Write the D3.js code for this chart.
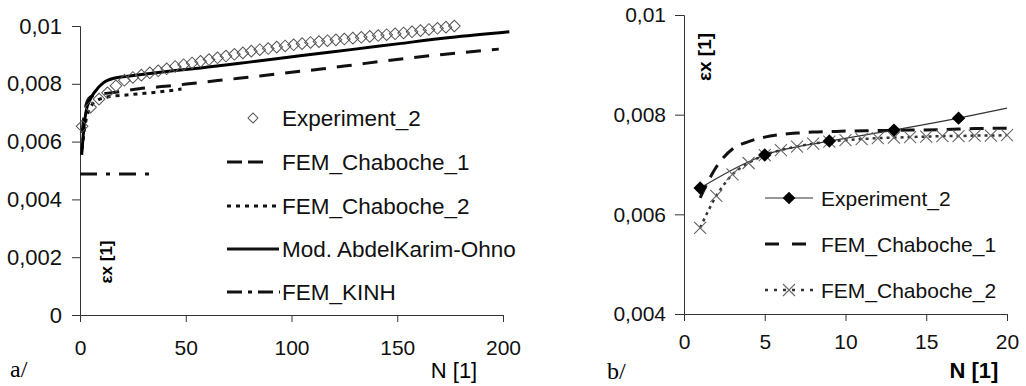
<!DOCTYPE html>
<html>
<head>
<meta charset="utf-8">
<script src="https://cdn.jsdelivr.net/npm/d3@7"></script>
<style>
	body { margin: 0; background: #fff; }
	svg { display: block; font-family: 'Liberation Sans', Arial, sans-serif; }
	.axis path, .axis line { stroke: #333; stroke-width: 1; }
	.axis text { fill: #111; }
</style>
</head>
<body>
<div id="chart"></div>
<script>
//panel a/ - long run
var expA_N = [1,5,9,13,17,21,25,29,33,37,41,45,49,53,57,61,65,69,73,77,81,85,89,93,97,101,105,109,113,117,121,125,129,133,137,141,145,149,153,157,161,165,169,173,177];
var expA_val = [0.00653,0.00719,0.00747,0.00769,0.00793,0.00812,0.00822,0.00830,0.00838,0.00845,0.00852,0.00860,0.00866,0.00872,0.00878,0.00884,0.00890,0.00896,0.00902,0.00907,0.00913,0.00918,0.00922,0.00927,0.00931,0.00935,0.00939,0.00943,0.00946,0.00949,0.00952,0.00955,0.00958,0.00961,0.00964,0.00967,0.00970,0.00973,0.00976,0.00980,0.00984,0.00988,0.00992,0.00996,0.01000];
var ch1A_N = [1,2,3,5,10,15,28,43,55,70,85,100,115,130,145,160,175,198];
var ch1A_val = [0.0063,0.00695,0.0073,0.00755,0.00765,0.00769,0.00783,0.00793,0.00803,0.00815,0.00827,0.0084,0.00852,0.00866,0.0088,0.00893,0.00904,0.0092];
var ch2A_N = [1,2,3,5,8,10,15,20,27,35,41,48];
var ch2A_val = [0.00573,0.00637,0.0068,0.00719,0.00742,0.00749,0.00757,0.0076,0.00765,0.0077,0.00775,0.00782];
var aoA_N = [0.8,1.65,2.8,4.7,7,11,16.5,23.6,33,45,57,80,104,130,151,175,203];
var aoA_val = [0.00554,0.00633,0.00702,0.00744,0.00772,0.00803,0.0082,0.00827,0.00836,0.00846,0.00855,0.00875,0.00897,0.0092,0.00939,0.0096,0.0098];
var kinhA_N = [0,36];
var kinhA_val = [0.00488,0.00488];
var xTicksA = [0,50,100,150,200];
var yTicksA = [0,0.002,0.004,0.006,0.008,0.01];
var legendA = ['Experiment_2','FEM_Chaboche_1','FEM_Chaboche_2','Mod. AbdelKarim-Ohno','FEM_KINH'];

//panel b/ - first 20 cycles
var expB_N = [1,5,9,13,17];
var expB_val = [0.00653,0.00719,0.00747,0.00769,0.00793];
var expBline_N = [1,5,9,13,17,20];
var expBline_val = [0.00653,0.00719,0.00747,0.00769,0.00793,0.00813];
var ch1B_N = [1,2,3,4,5,6,7,8,9,10,12,14,16,18,20];
var ch1B_val = [0.00633,0.00695,0.00731,0.00746,0.00755,0.0076,0.00763,0.00765,0.00766,0.00767,0.00768,0.00769,0.0077,0.00772,0.00773];
var ch2B_N = [1,2,3,4,5,6,7,8,9,10,11,12,13,14,15,16,17,18,19,20];
var ch2B_val = [0.00573,0.00637,0.0068,0.00703,0.00719,0.00729,0.00736,0.00742,0.00746,0.00749,0.00751,0.00753,0.00754,0.00755,0.00756,0.00757,0.00757,0.00758,0.00758,0.00759];
var xTicksB = [0,5,10,15,20];
var yTicksB = [0.004,0.006,0.008,0.01];
var legendB = ['Experiment_2','FEM_Chaboche_1','FEM_Chaboche_2'];

var w = 1026;
var h = 386;

var svg = d3.select('#chart')
			.append('svg')
			.attr('width', w)
			.attr('height', h);

function pairs(ns, vals) {
	return ns.map(function(n, i) { return {n: n, v: vals[i]}; });
}

function commaFormat(d) {
	if (d === 0) return '0';
	return String(+d.toFixed(3)).replace('.', ',');
}

function drawLine(g, x, y, data, stroke, width, dash) {
	var line = d3.line()
				.curve(d3.curveMonotoneX)
				.x(function(d) { return x(d.n); })
				.y(function(d) { return y(d.v); });
	g.append('path')
		.datum(data)
		.attr('fill', 'none')
		.attr('stroke', stroke)
		.attr('stroke-width', width)
		.attr('stroke-dasharray', dash)
		.attr('d', line);
}

var diamond = d3.symbol().type(d3.symbolSquare);
var crossPath = 'M-6,-6L6,6M-6,6L6,-6';

//---------------- panel a/
var xA = d3.scaleLinear().domain([0, 200]).range([80, 503]);
var yA = d3.scaleLinear().domain([0, 0.01]).range([315, 26]);

var gA = svg.append('g');

gA.append('g')
	.attr('class', 'axis')
	.attr('transform', 'translate(0,' + yA(0) + ')')
	.call(d3.axisBottom(xA).tickValues(xTicksA).tickSize(7).tickPadding(18))
	.selectAll('text')
	.style('font-size', '21px');

gA.append('g')
	.attr('class', 'axis')
	.attr('transform', 'translate(' + xA(0) + ',0)')
	.call(d3.axisLeft(yA).tickValues(yTicksA).tickSize(8).tickFormat(commaFormat).tickPadding(10))
	.selectAll('text')
	.style('font-size', '22px');

drawLine(gA, xA, yA, pairs(kinhA_N, kinhA_val), '#111', 3, '17,9,4,9');
drawLine(gA, xA, yA, pairs(ch1A_N, ch1A_val), '#111', 3, '15,11');
drawLine(gA, xA, yA, pairs(ch2A_N, ch2A_val), '#111', 3, '4,5');
drawLine(gA, xA, yA, pairs(aoA_N, aoA_val), '#000', 3, null);

gA.selectAll('path.expA')
	.data(pairs(expA_N, expA_val))
	.enter()
	.append('path')
	.attr('class', 'expA')
	.attr('d', diamond.size(68))
	.attr('transform', function(d) { return 'translate(' + xA(d.n) + ',' + yA(d.v) + ') rotate(45)'; })
	.attr('fill', '#fff')
	.attr('fill-opacity', 0)
	.attr('stroke', '#555')
	.attr('stroke-width', 1);

//legend a/
var legA = gA.append('g');
var legAy = [118, 162, 206, 249, 292];
var dashA = [null, '15,6', '4,5', null, '15,6,4,6'];
legendA.forEach(function(name, i) {
	legA.append('text')
		.attr('x', 282)
		.attr('y', legAy[i])
		.attr('dy', '0.36em')
		.style('font-size', '22.5px')
		.attr('fill', '#111')
		.text(name);
	if (i === 0) {
		legA.append('path')
			.attr('d', d3.symbol().type(d3.symbolSquare).size(50)())
			.attr('transform', 'translate(253,' + legAy[i] + ') rotate(45)')
			.attr('fill', 'none')
			.attr('stroke', '#555');
	} else {
		legA.append('line')
			.attr('x1', 227)
			.attr('x2', i === 3 ? 279 : (i === 1 ? 263 : 280))
			.attr('y1', legAy[i])
			.attr('y2', legAy[i])
			.attr('stroke', '#111')
			.attr('stroke-width', 3)
			.attr('stroke-dasharray', dashA[i]);
	}
});

gA.append('text')
	.attr('transform', 'translate(112,262) rotate(-90)')
	.attr('text-anchor', 'middle')
	.style('font-size', '17px')
	.style('font-weight', 'bold')
	.text('εx [1]');

gA.append('text')
	.attr('x', 454)
	.attr('y', 378)
	.attr('text-anchor', 'middle')
	.style('font-size', '22px')
	.text('N [1]');

gA.append('text')
	.attr('x', 10)
	.attr('y', 377)
	.style('font-family', "'Liberation Serif', 'Times New Roman', serif")
	.style('font-size', '24px')
	.text('a/');

//---------------- panel b/
var xB = d3.scaleLinear().domain([0, 20]).range([684, 1007]);
var yB = d3.scaleLinear().domain([0.004, 0.01]).range([314, 15]);

var gB = svg.append('g');

gB.append('g')
	.attr('class', 'axis')
	.attr('transform', 'translate(0,' + yB(0.004) + ')')
	.call(d3.axisBottom(xB).tickValues(xTicksB).tickSize(7).tickPadding(13))
	.selectAll('text')
	.style('font-size', '21px');

gB.append('g')
	.attr('class', 'axis')
	.attr('transform', 'translate(' + xB(0) + ',0)')
	.call(d3.axisLeft(yB).tickValues(yTicksB).tickSize(9).tickFormat(commaFormat).tickPadding(9))
	.selectAll('text')
	.style('font-size', '21px');

drawLine(gB, xB, yB, pairs(ch1B_N, ch1B_val), '#111', 3, '14,9');
drawLine(gB, xB, yB, pairs(ch2B_N, ch2B_val), '#333', 2.5, '3,4');
drawLine(gB, xB, yB, pairs(expBline_N, expBline_val), '#333', 1.2, null);

gB.selectAll('path.crossB')
	.data(pairs(ch2B_N, ch2B_val))
	.enter()
	.append('path')
	.attr('class', 'crossB')
	.attr('d', crossPath)
	.attr('transform', function(d) { return 'translate(' + xB(d.n) + ',' + yB(d.v) + ')'; })
	.attr('fill', 'none')
	.attr('stroke', '#666')
	.attr('stroke-width', 1.1);

gB.selectAll('path.expB')
	.data(pairs(expB_N, expB_val))
	.enter()
	.append('path')
	.attr('class', 'expB')
	.attr('d', diamond.size(90))
	.attr('transform', function(d) { return 'translate(' + xB(d.n) + ',' + yB(d.v) + ') rotate(45)'; })
	.attr('fill', '#000');

//legend b/
var legB = gB.append('g');
var legBy = [198, 244, 290];
legendB.forEach(function(name, i) {
	legB.append('text')
		.attr('x', 821)
		.attr('y', legBy[i])
		.attr('dy', '0.36em')
		.style('font-size', '21px')
		.attr('fill', '#111')
		.text(name);
});
legB.append('line')
	.attr('x1', 765).attr('x2', 813)
	.attr('y1', legBy[0]).attr('y2', legBy[0])
	.attr('stroke', '#333').attr('stroke-width', 1.2);
legB.append('path')
	.attr('d', d3.symbol().type(d3.symbolSquare).size(80)())
	.attr('transform', 'translate(789,' + legBy[0] + ') rotate(45)')
	.attr('fill', '#000');
legB.append('line')
	.attr('x1', 765).attr('x2', 806)
	.attr('y1', legBy[1]).attr('y2', legBy[1])
	.attr('stroke', '#111').attr('stroke-width', 3)
	.attr('stroke-dasharray', '14,13');
legB.append('line')
	.attr('x1', 765).attr('x2', 813)
	.attr('y1', legBy[2]).attr('y2', legBy[2])
	.attr('stroke', '#333').attr('stroke-width', 2.5)
	.attr('stroke-dasharray', '3,6');
legB.append('path')
	.attr('d', crossPath)
	.attr('transform', 'translate(789,' + legBy[2] + ')')
	.attr('fill', 'none')
	.attr('stroke', '#666')
	.attr('stroke-width', 1.1);

gB.append('text')
	.attr('transform', 'translate(711,57) rotate(-90)')
	.attr('text-anchor', 'middle')
	.style('font-size', '19px')
	.style('font-weight', 'bold')
	.text('εx [1]');

gB.append('text')
	.attr('x', 974)
	.attr('y', 378)
	.attr('text-anchor', 'middle')
	.style('font-size', '22px')
	.style('font-weight', 'bold')
	.text('N [1]');

gB.append('text')
	.attr('x', 607)
	.attr('y', 379)
	.style('font-family', "'Liberation Serif', 'Times New Roman', serif")
	.style('font-size', '24px')
	.text('b/');
</script>
</body>
</html>
